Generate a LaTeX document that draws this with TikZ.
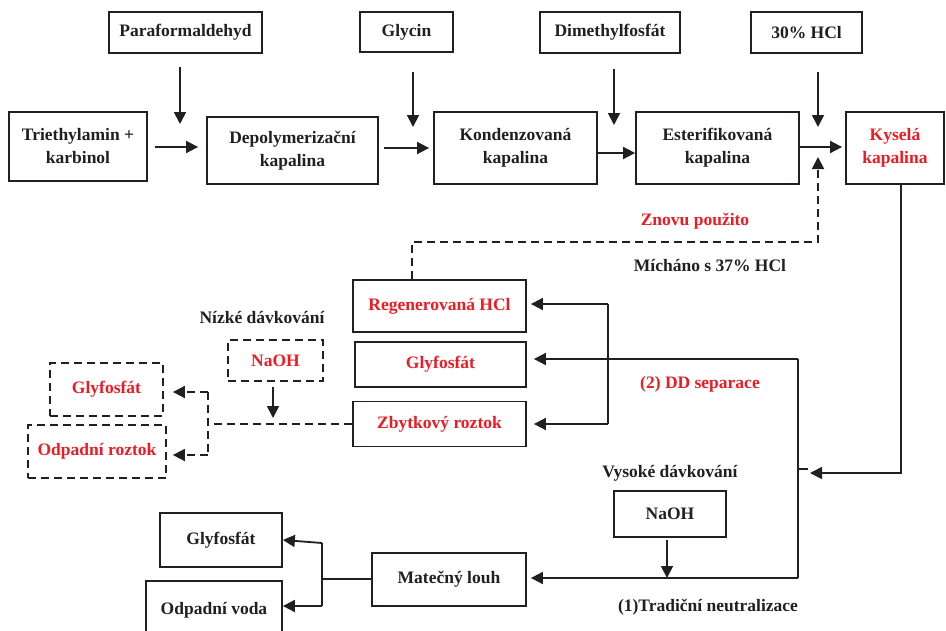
\documentclass[tikz,border=0pt]{standalone}
\usepackage{fontspec}
\setmainfont{Liberation Serif}
\usetikzlibrary{arrows.meta,calc}
\definecolor{ink}{HTML}{231F20}
\definecolor{hot}{HTML}{ED1C24}
\tikzset{
  box/.style={draw=ink,line width=1.8pt,inner sep=2pt,align=center,text=ink,
    font=\bfseries\fontsize{17.5}{23}\selectfont},
  dbox/.style={box,dash pattern=on 8pt off 5pt},
  red/.style={text=hot},
  lbl/.style={font=\bfseries\fontsize{17.5}{23}\selectfont,text=ink,inner sep=0pt},
  arr/.style={draw=ink,line width=1.8pt,-{Triangle[length=12pt,width=12pt]}},
  ln/.style={draw=ink,line width=1.8pt},
  darr/.style={arr,dash pattern=on 8pt off 5pt},
  dln/.style={ln,dash pattern=on 8pt off 5pt}
}
\begin{document}
\begin{tikzpicture}[x=1pt,y=-1pt]
\clip (0,0) rectangle (946,630);
\fill[white] (0,0) rectangle (946,630);
% top row feeds
\node[box,minimum width=153pt,minimum height=41pt] (para) at (185.5,32.5) {Paraformaldehyd};
\node[box,minimum width=93pt,minimum height=40pt] (gly) at (406.5,32) {Glycin};
\node[box,minimum width=140pt,minimum height=41pt] (dmf) at (610,32.5) {Dimethylfosfát};
\node[box,minimum width=111pt,minimum height=41pt] (hcl) at (806.5,32.5) {30\% HCl};
% main row
\node[box,minimum width=138pt,minimum height=69pt] (tea) at (78,146.5) {Triethylamin +\\karbinol};
\node[box,minimum width=171pt,minimum height=67pt] (dep) at (292.5,150.5) {Depolymerizační\\kapalina};
\node[box,minimum width=163pt,minimum height=72pt] (kon) at (515.5,148) {Kondenzovaná\\kapalina};
\node[box,minimum width=163pt,minimum height=72pt] (est) at (717.5,148) {Esterifikovaná\\kapalina};
\node[box,red,minimum width=98pt,minimum height=72pt] (kys) at (895,148) {Kyselá\\kapalina};
% DD separation products
\node[box,red,minimum width=173pt,minimum height=52pt] (reg) at (439.5,306) {Regenerovaná HCl};
\node[box,red,minimum width=171pt,minimum height=45pt] (glyf) at (440.5,364.5) {Glyfosfát};
\node[box,red,minimum width=173pt,minimum height=45pt] (zby) at (439.5,424) {Zbytkový roztok};
% low dosing
\node[dbox,red,minimum width=95pt,minimum height=41pt] (naoha) at (275.5,360.5) {NaOH};
\node[dbox,red,minimum width=113pt,minimum height=53pt] (glyd) at (106.5,389.5) {Glyfosfát};
\node[dbox,red,minimum width=138pt,minimum height=53pt] (odr) at (97,451.5) {Odpadní roztok};
% traditional neutralisation
\node[box,minimum width=112pt,minimum height=46pt] (naohb) at (670,514) {NaOH};
\node[box,minimum width=154pt,minimum height=53pt] (mat) at (449,579.5) {Matečný louh};
\node[box,minimum width=122pt,minimum height=54pt] (glyb) at (221,540) {Glyfosfát};
\node[box,minimum width=136pt,minimum height=59pt] (odv) at (214,610.5) {Odpadní voda};
% labels
\node[lbl,text=hot] (l1) at (695,221) {Znovu použito};
\node[lbl] (l2) at (710,266) {Mícháno s 37\% HCl};
\node[lbl,text=hot] (l3) at (700,384) {(2) DD separace};
\node[lbl] (l4) at (262,317) {Nízké dávkování};
\node[lbl] (l5) at (670,473) {Vysoké dávkování};
\node[lbl] (l6) at (708,607) {(1)Tradiční neutralizace};
% coordinates
\coordinate (pa1) at (180,67); \coordinate (pa2) at (180,124);
\coordinate (gl1) at (413,72); \coordinate (gl2) at (413,127);
\coordinate (dm1) at (614,69); \coordinate (dm2) at (614,125);
\coordinate (hc1) at (818,72); \coordinate (hc2) at (818,127);
\coordinate (rj) at (818,242); \coordinate (rt) at (818,157);
\coordinate (kj) at (810,473);
\coordinate (vt) at (798,359); \coordinate (vb) at (798,578);
\coordinate (st1) at (798,469); \coordinate (st2) at (808,469);
\coordinate (dt) at (608,304); \coordinate (db) at (608,424);
\coordinate (lj) at (208,424); \coordinate (lt) at (208,392); \coordinate (lb) at (208,455);
\coordinate (na1) at (273,387); \coordinate (na2) at (273,418);
\coordinate (nb1) at (667,540); \coordinate (nb2) at (667,578);
\coordinate (mj) at (322,579); \coordinate (mt) at (322,543); \coordinate (mb) at (322,606);
% feed arrows
\draw[arr] (pa1) -- (pa2);
\draw[arr] (gl1) -- (gl2);
\draw[arr] (dm1) -- (dm2);
\draw[arr] (hc1) -- (hc2);
% main flow
\draw[arr,shorten <=7pt,shorten >=8pt] ([yshift=-0.5pt]tea.east) -- ([yshift=-0.5pt]tea.east -| dep.west);
\draw[arr,shorten <=5pt,shorten >=4pt] (dep.east |- kon.west) -- (kon.west);
\draw[arr] ([yshift=-5pt]kon.east) -- ([yshift=-5pt]est.west);
\draw[arr,shorten >=3pt] ([yshift=1pt]est.east) -- ([yshift=1pt]kys.west);
% recycle
\draw[darr] ([xshift=-27.5pt]reg.north) |- (rj) -- (rt);
% acid liquid down
\draw[arr] ([xshift=6pt]kys.south) |- (kj);
\draw[ln] (vt) -- (vb);
\draw[ln] (st1) -- (st2);
\draw[arr,shorten >=7pt] (vt) -- (vt -| glyf.east);
\draw[arr,shorten >=4pt] (vb) -- (vb -| mat.east);
% DD separation split
\draw[ln] (dt) -- (db);
\draw[arr,shorten >=4pt] (dt) -- (dt -| reg.east);
\draw[arr,shorten >=7pt] (db) -- (db -| zby.east);
% low dosing
\draw[dln] (zby.west) -- (lj);
\draw[dln] (lt) -- (lb);
\draw[darr,shorten >=9pt] (lt) -- (lt -| glyd.east);
\draw[darr,shorten >=6pt] (lb) -- (lb -| odr.east);
\draw[arr] (na1) -- (na2);
% traditional
\draw[arr] (nb1) -- (nb2);
\draw[ln] (mat.west |- mj) -- (mj);
\draw[ln] (mt) -- (mb);
\draw[arr] (mt) -- (glyb.east);
\draw[arr] (mb) -- (mb -| odv.east);
\end{tikzpicture}
\end{document}
